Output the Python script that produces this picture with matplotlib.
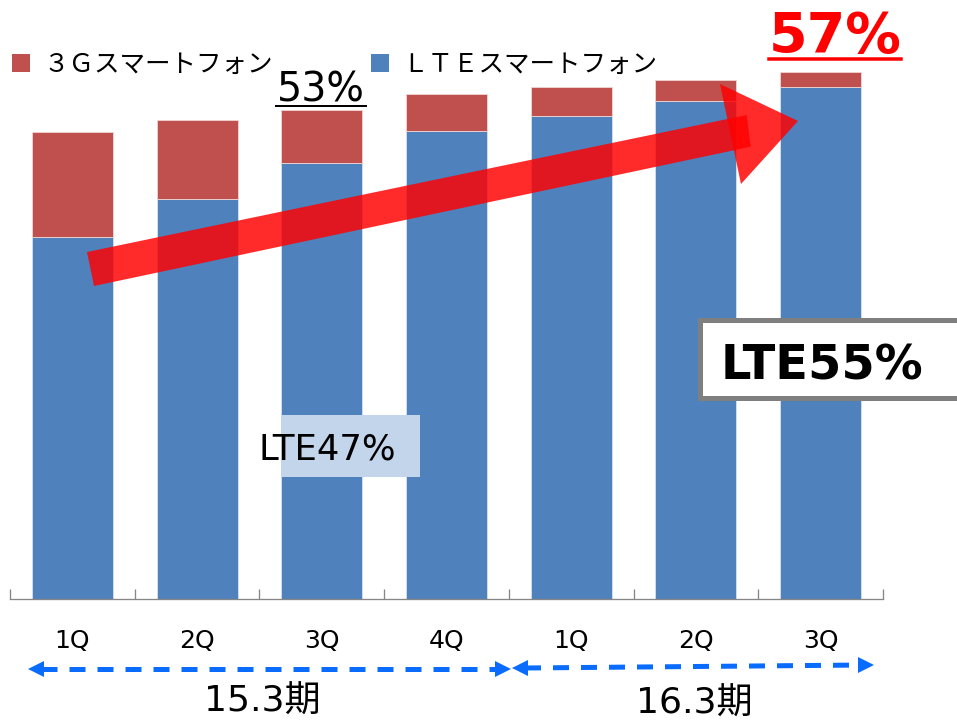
import numpy as np
import matplotlib
matplotlib.use("Agg")
import matplotlib.pyplot as plt
from matplotlib.patches import Patch, Rectangle, Polygon
from matplotlib.lines import Line2D

plt.rcParams['lines.scale_dashes'] = False
plt.rcParams['font.family'] = ['DejaVu Sans', 'Noto Sans CJK JP']

# ---- data (percent of subscribers) ----
quarters = ['1Q', '2Q', '3Q', '4Q', '1Q', '2Q', '3Q']
lte_share = [39.0, 43.1, 47.0, 50.5, 52.1, 53.7, 55.2]
g3_share = [11.4, 8.6, 5.8, 4.0, 3.1, 2.3, 1.7]
series_names = ['３Ｇスマートフォン', 'ＬＴＥスマートフォン']
periods = ['15.3期', '16.3期']

BLUE = '#4f81bd'
RED = '#c0504d'
ARROW_BLUE = '#0a6bff'
GRAY = '#868686'

W, H = 957, 720
fig = plt.figure(figsize=(W / 100, H / 100), dpi=100)


def F(x, y):
    return (x / W, 1 - y / H)


PX = 0.72  # points per pixel

ax = fig.add_axes([10 / W, 121 / H, 873 / W, 599 / H])
ax.set_xlim(-0.5, len(quarters) - 0.5)
ax.set_ylim(0, 599 / 9.27)

x = np.arange(len(quarters))
lte = np.array(lte_share)
g3 = np.array(g3_share)
ax.bar(x, lte, width=0.65, color=BLUE, edgecolor='#d6e1ef', linewidth=0.6, zorder=2)
ax.bar(x, g3, bottom=lte, width=0.65, color=RED, edgecolor='#efd6d5', linewidth=0.6, zorder=2)

for s in ['left', 'right', 'top']:
    ax.spines[s].set_visible(False)
ax.spines['bottom'].set_color(GRAY)
ax.spines['bottom'].set_linewidth(1.3 * PX)
ax.set_yticks([])
ax.set_xticks(np.arange(-0.5, len(quarters), 1.0))
ax.tick_params(axis='x', which='major', direction='in', length=10 * PX,
               width=1.3 * PX, color=GRAY, labelbottom=False)
ax.set_xticks(x, labels=quarters, minor=True)
ax.tick_params(axis='x', which='minor', length=0, pad=49 * PX, labelsize=18)
for lab in ax.get_xticklabels(minor=True):
    lab.set_verticalalignment('baseline')
    lab.set_family('DejaVu Sans')

# ---- legend ----
handles = [Patch(facecolor=RED, edgecolor='none'), Patch(facecolor=BLUE, edgecolor='none')]
fig.legend(handles, series_names, loc='upper left', bbox_to_anchor=F(12, 52),
           ncol=2, frameon=False, prop={'family': 'Noto Sans CJK JP', 'size': 18.4},
           handlelength=0.71, handleheight=0.71, handletextpad=0.51,
           columnspacing=3.85, borderpad=0, borderaxespad=0)

# ---- totals labels ----
tot = lte + g3
fig.text(*F(321, 102), f'{round(tot[2]):.0f}%', ha='center', va='baseline',
         fontsize=28.5, family='DejaVu Sans', color='black')
fig.add_artist(Line2D([276 / W, 366 / W], [1 - 106 / H] * 2, color='black', lw=2 * PX))
fig.text(*F(835.5, 52), f'{round(tot[6]):.0f}%', ha='center', va='baseline',
         fontsize=40, family='DejaVu Sans', weight='bold', color='#ff0000')
fig.add_artist(Line2D([769 / W, 901 / W], [1 - 58.5 / H] * 2, color='#ff0000', lw=3.5 * PX))

# ---- big red trend arrow ----
shaft = [F(87, 252), F(94, 286), F(750.7, 146.7), F(746.7, 115)]
head = [F(720, 84), F(798, 121), F(741, 184)]
for pts in (shaft, head):
    fig.add_artist(Polygon(pts, closed=True, transform=fig.transFigure,
                           facecolor='#ff0000', edgecolor='none', alpha=0.83, zorder=3))

# ---- LTE47% label ----
fig.add_artist(Rectangle(F(281, 477), (420 - 281) / W, (477 - 415) / H,
                         transform=fig.transFigure, facecolor='#c3d5ea',
                         edgecolor='none', zorder=2))
fig.text(*F(258, 460), f'LTE{round(lte[2]):.0f}%', ha='left', va='baseline',
         fontsize=25.5, family='DejaVu Sans', color='black', zorder=4)

# ---- LTE55% box ----
fig.add_artist(Rectangle(F(699.5, 397.5), (990 - 699.5) / W, (397.5 - 319.5) / H,
                         transform=fig.transFigure, facecolor='white',
                         edgecolor='#7f7f7f', linewidth=5 * PX, zorder=2))
fig.text(*F(721, 379), f'LTE{round(lte[6]):.0f}%', ha='left', va='baseline',
         fontsize=34.5, family='DejaVu Sans', weight='bold', color='black', zorder=4)

# ---- period arrows ----
def period_arrow(x0, y0, x1, y1):
    # x0,y0: left tip, x1,y1: right tip (pixels)
    fig.add_artist(Line2D([(x0 + 13) / W, (x1 - 8) / W],
                          [1 - y0 / H, 1 - y1 / H], color=ARROW_BLUE, lw=5 * PX,
                          linestyle=(0, (16 * PX, 12 * PX)), solid_capstyle='butt',
                          dash_capstyle='butt'))
    fig.add_artist(Line2D([(x0 + 8) / W], [1 - y0 / H], marker='<', markersize=16 * PX,
                          color=ARROW_BLUE, markeredgewidth=0, linestyle='none'))
    fig.add_artist(Line2D([(x1 - 8) / W], [1 - y1 / H], marker='>', markersize=16 * PX,
                          color=ARROW_BLUE, markeredgewidth=0, linestyle='none'))


period_arrow(28, 669, 510.7, 669)
period_arrow(512, 668, 874, 665)

fig.text(*F(262, 712), periods[0], ha='center', va='baseline', fontsize=26,
         family=['DejaVu Sans', 'Noto Sans CJK JP'])
fig.text(*F(694.5, 714), periods[1], ha='center', va='baseline', fontsize=26,
         family=['DejaVu Sans', 'Noto Sans CJK JP'])

fig.savefig('out.png', dpi=100)
